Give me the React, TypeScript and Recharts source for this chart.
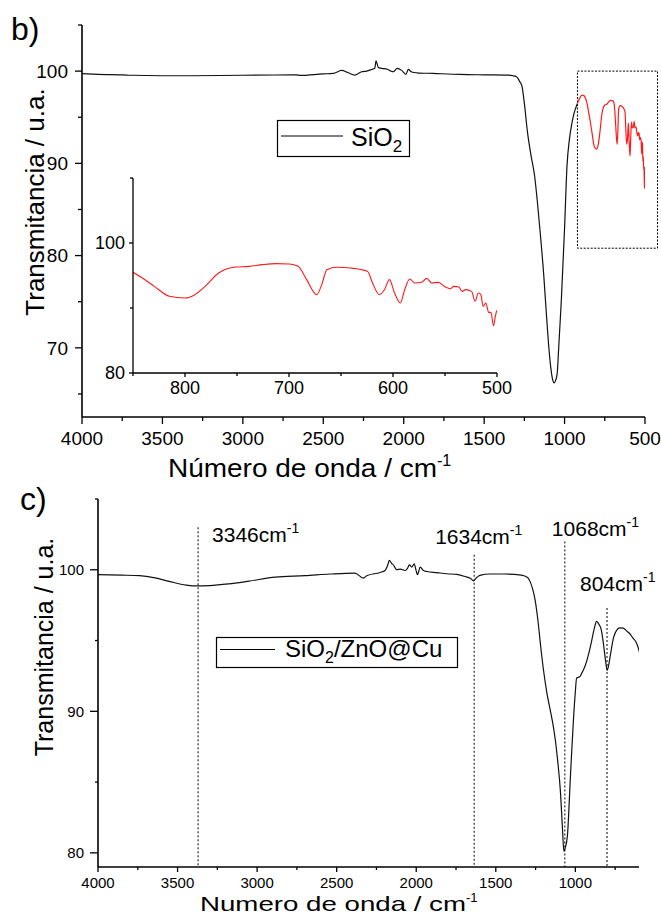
import React from 'react'
import { LineChart, Line, XAxis, YAxis, ReferenceLine, ReferenceArea, Legend } from 'recharts'

const FONT = '"Liberation Sans", Arial, Helvetica, sans-serif'

// ---------- data : SiO2 (black part, 4000 -> 920 cm-1)
const sio2Wn = [4000, 3900, 3746, 3700, 3500, 3324, 3000, 2800, 2666, 2645, 2500, 2438, 2386, 2345, 2303, 2261, 2230, 2199, 2180, 2172, 2158, 2137, 2102, 2080, 2065, 2040, 2013, 1986, 1972, 1950, 1919, 1816, 1650, 1500, 1349, 1320, 1296, 1280, 1265, 1250, 1230, 1210, 1186, 1170, 1151, 1130, 1112, 1100, 1086, 1075, 1065, 1055, 1046, 1035, 1020, 1000, 985, 970, 954, 940, 920]
const sio2T = [99.72, 99.65, 99.6, 99.55, 99.5, 99.5, 99.55, 99.58, 99.6, 99.53, 99.7, 99.75, 100.08, 99.82, 99.57, 99.93, 100.0, 100.18, 100.3, 101.1, 100.4, 100.3, 100.2, 100.0, 99.93, 100.3, 100.08, 99.64, 100.18, 99.9, 99.82, 99.75, 99.64, 99.6, 99.57, 99.5, 99.35, 98.9, 98.37, 96.5, 93.3, 91.0, 88.6, 86.0, 82.4, 78.0, 73.4, 70.5, 67.9, 66.6, 66.2, 66.5, 67.2, 70.5, 75.2, 83.0, 89.7, 92.6, 94.4, 95.5, 96.5]

// ---------- data : SiO2 (red zoomed part, 920 -> 500 cm-1)
const zoomWn = [920, 905, 890, 877, 865, 857, 850, 842.5, 829.5, 815, 800, 790.5, 780.7, 767.7, 751.4, 738.4, 725.4, 712.4, 699.4, 691.3, 683, 673.4, 668.5, 663.6, 653.8, 640.8, 624.6, 619.7, 613.2, 608.3, 603.4, 598.5, 593, 588.8, 583.9, 579, 572.5, 567.6, 562.8, 556.3, 549.8, 544.9, 541.6, 536.7, 533.5, 530.2, 524.4, 521.1, 517.9, 515.6, 513.3, 510.7, 508.1, 505.8, 503.4, 501.6, 500.3]
const zoomT = [96.5, 97.1, 97.4, 97.3, 96.8, 96.2, 95.49, 94.77, 93.33, 91.8, 91.54, 92.05, 93.33, 95.38, 96.3, 96.4, 96.67, 96.82, 96.77, 96.41, 94.36, 92.05, 93.6, 95.9, 96.26, 96.15, 95.64, 93.85, 92.05, 92.8, 94.36, 92.3, 90.77, 92.8, 94.46, 93.85, 93.95, 94.56, 93.85, 93.95, 93.23, 92.97, 93.33, 93.23, 92.56, 92.82, 92.56, 91.03, 92.3, 92.05, 90.26, 90.77, 89.33, 89.33, 87.28, 88.72, 89.64]

// ---------- data : SiO2/ZnO@Cu
const compWn = [4000, 3850, 3739, 3650, 3552, 3446, 3370, 3300, 3179, 3050, 2885, 2700, 2541, 2385, 2332, 2311, 2227, 2196, 2180, 2169, 2155, 2144, 2122, 2100, 2070, 2055, 2043, 2028, 2013, 2000, 1992, 1975, 1955, 1933, 1870, 1807, 1744, 1682, 1660, 1640, 1620, 1600, 1535, 1450, 1339, 1300, 1285, 1270, 1253, 1235, 1218, 1200, 1179, 1160, 1138, 1125, 1112, 1093, 1080, 1072, 1065, 1050, 1031, 1012, 1000, 992, 980, 970, 955, 939, 920, 899, 880, 867, 855, 838, 825, 811, 800, 790, 778, 760, 739, 720, 699, 680, 670, 659, 640, 619, 605, 597]
const compT = [99.65, 99.62, 99.58, 99.45, 99.18, 98.92, 98.86, 98.88, 99.0, 99.2, 99.48, 99.58, 99.7, 99.77, 99.41, 99.58, 99.81, 99.95, 100.3, 100.66, 100.45, 100.35, 100.0, 100.05, 99.95, 100.1, 100.35, 100.19, 100.42, 99.9, 99.65, 100.19, 99.95, 99.88, 99.8, 99.72, 99.67, 99.48, 99.4, 99.22, 99.45, 99.6, 99.7, 99.7, 99.62, 99.45, 99.18, 98.7, 97.88, 96.4, 94.6, 92.9, 91.3, 90.2, 88.9, 87.9, 86.6, 84.2, 81.5, 80.1, 80.3, 81.2, 85.4, 89.4, 91.4, 92.35, 92.4, 92.47, 92.8, 93.2, 93.9, 94.9, 95.9, 96.35, 96.2, 95.8, 94.9, 93.65, 92.9, 93.3, 94.1, 95.2, 95.76, 95.9, 95.88, 95.7, 95.6, 95.5, 95.2, 94.9, 94.5, 94.16]

// ---------- peaks marked in panel c)
const peakPos = [3371, 1636, 1066, 801]
const peakTop = [103.0, 101.06, 102.0, 97.3]
const peakText = ['3346', '1634', '1068', '804']
const peakDx = [14, -39, -13, -27]
const peakDy = [15, -11, -5, -17]

// ---------- ticks
const mainXTicks = [4000, 3750, 3500, 3250, 3000, 2750, 2500, 2250, 2000, 1750, 1500, 1250, 1000, 750, 500]
const mainXLabels = [4000, 3500, 3000, 2500, 2000, 1500, 1000, 500]
const mainYTicks = [65, 70, 75, 80, 85, 90, 95, 100, 105]
const mainYLabels = [70, 80, 90, 100]
const insetXTicks = [850, 800, 750, 700, 650, 600, 550, 500]
const insetXLabels = [800, 700, 600, 500]
const insetYTicks = [80, 90, 100, 110]
const insetYLabels = [80, 100]
const compXTicks = [4000, 3750, 3500, 3250, 3000, 2750, 2500, 2250, 2000, 1750, 1500, 1250, 1000, 750]
const compXLabels = [4000, 3500, 3000, 2500, 2000, 1500, 1000]
const compYTicks = [80, 85, 90, 95, 100, 105]
const compYLabels = [80, 90, 100]

const mainRows = [
  ...sio2Wn.map((wn, i) => ({ wn, black: sio2T[i] })),
  ...zoomWn.map((wn, i) => ({ wn, red: zoomT[i] })),
]
const insetRows = zoomWn.map((wn, i) => ({ wn, red: zoomT[i] })).filter((r) => r.wn <= 850)
const compRows = compWn.map((wn, i) => ({ wn, t: compT[i] }))

// ---------- tick renderers (major ticks labelled, minor ticks short)
const xTick = (labels: number[], size: number, dy: number, major: number, minor: number) => (p: any) => {
  const isMajor = labels.includes(p.payload.value)
  return (
    <g>
      <line x1={p.x} x2={p.x} y1={p.y} y2={p.y + (isMajor ? major : minor)} stroke="#000" strokeWidth={1.3} />
      {isMajor && (
        <text x={p.x} y={p.y + dy} textAnchor="middle" fontSize={size} fontFamily={FONT} fill="#000">
          {p.payload.value}
        </text>
      )}
    </g>
  )
}

const yTick = (labels: number[], size: number, gap: number, major: number, minor: number) => (p: any) => {
  const isMajor = labels.includes(p.payload.value)
  return (
    <g>
      <line x1={p.x - (isMajor ? major : minor)} x2={p.x} y1={p.y} y2={p.y} stroke="#000" strokeWidth={1.3} />
      {isMajor && (
        <text x={p.x - gap} y={p.y} dy="0.36em" textAnchor="end" fontSize={size} fontFamily={FONT} fill="#000">
          {p.payload.value}
        </text>
      )}
    </g>
  )
}

// ---------- titles
const XTitle = (props: any) => {
  const { viewBox, dx, dy, text, size, len } = props
  return (
    <text x={viewBox.x + dx} y={viewBox.y + dy} fontSize={size} fontFamily={FONT} fill="#000">
      <tspan textLength={len} lengthAdjust="spacingAndGlyphs">{text}</tspan>
      <tspan dy={-size * 0.42} fontSize={size * 0.62}>-1</tspan>
    </text>
  )
}

const YTitle = (props: any) => {
  const { viewBox, bx, dy, size } = props
  const cy = viewBox.y + viewBox.height / 2 + dy
  return (
    <text x={bx} y={cy} transform={`rotate(-90 ${bx} ${cy})`} textAnchor="middle" fontSize={size} fontFamily={FONT} fill="#000">
      Transmitancia / u.a.
    </text>
  )
}

const PeakLabel = (props: any) => {
  const { viewBox, dx, dy, text } = props
  return (
    <text x={viewBox.x + dx} y={viewBox.y + dy} fontSize={21} fontFamily={FONT} fill="#000">
      {text}cm
      <tspan dy={-9} fontSize={14}>-1</tspan>
    </text>
  )
}

const LegendBox = ({ w, h, lineEnd, lineY, textX, textY, size, children }: any) => (
  <svg width={w} height={h} style={{ display: 'block', overflow: 'visible' }}>
    <rect x={0.5} y={0.5} width={w - 1} height={h - 1} fill="#fff" stroke="#000" strokeWidth={1.2} />
    <line x1={4} x2={lineEnd} y1={lineY} y2={lineY} stroke="#000" strokeWidth={1} />
    <text x={textX} y={textY} fontSize={size} fontFamily={FONT} fill="#000">
      {children}
    </text>
  </svg>
)

const axisLine = { stroke: '#000', strokeWidth: 1.6 }

export default function App() {
  return (
    <div style={{ position: 'absolute', left: 0, top: 0, width: 661, height: 915, background: '#fff', fontFamily: FONT }}>
      {/* panel b) main spectrum */}
      <div style={{ position: 'absolute', left: 0, top: 0 }}>
        <LineChart width={661} height={490} data={mainRows} margin={{ top: 25, right: 16, bottom: 0, left: 0 }}>
          <XAxis
            type="number"
            dataKey="wn"
            domain={[500, 4000]}
            reversed
            allowDataOverflow
            ticks={mainXTicks}
            interval={0}
            height={73}
            tickSize={0}
            tickMargin={0}
            tickLine={false}
            axisLine={axisLine}
            tick={xTick(mainXLabels, 19, 28, 7, 4)}
            label={<XTitle dx={86} dy={60} size={26} len={269} text="Número de onda / cm" />}
          />
          <YAxis
            type="number"
            domain={[62.5, 105]}
            allowDataOverflow
            ticks={mainYTicks}
            interval={0}
            width={82}
            tickSize={0}
            tickMargin={0}
            tickLine={false}
            axisLine={axisLine}
            tick={yTick(mainYLabels, 19, 14, 7, 4)}
            label={<YTitle bx={44} dy={-19} size={26} />}
          />
          <ReferenceArea x1={920} x2={422} y1={80.8} y2={100} ifOverflow="visible" fill="none" fillOpacity={0} stroke="#000" strokeWidth={1} strokeDasharray="2 1.5" />
          <Line type="monotone" dataKey="black" stroke="#111" strokeWidth={1.2} dot={false} isAnimationActive={false} />
          <Line type="monotone" dataKey="red" stroke="#ff1a1a" strokeWidth={1.2} dot={false} isAnimationActive={false} />
          <Legend
            layout="vertical"
            align="center"
            verticalAlign="middle"
            wrapperStyle={{ left: 277, top: 120, width: 133, height: 37, margin: 0, padding: 0 }}
            content={() => (
              <LegendBox w={133} h={37} lineEnd={66} lineY={16} textX={74} textY={26} size={25}>
                SiO<tspan dy={6} fontSize={17}>2</tspan>
              </LegendBox>
            )}
          />
        </LineChart>
      </div>

      {/* panel b) inset */}
      <div style={{ position: 'absolute', left: 0, top: 0 }}>
        <LineChart width={520} height={410} data={insetRows} margin={{ top: 178, right: 23, bottom: 0, left: 0 }}>
          <XAxis
            type="number"
            dataKey="wn"
            domain={[500, 850]}
            reversed
            allowDataOverflow
            ticks={insetXTicks}
            interval={0}
            height={37}
            tickSize={0}
            tickMargin={0}
            tickLine={false}
            axisLine={{ stroke: '#000', strokeWidth: 1.3 }}
            tick={xTick(insetXLabels, 18, 21, 4, 3)}
          />
          <YAxis
            type="number"
            domain={[80, 110]}
            allowDataOverflow
            ticks={insetYTicks}
            interval={0}
            width={133}
            tickSize={0}
            tickMargin={0}
            tickLine={false}
            axisLine={{ stroke: '#000', strokeWidth: 1.3 }}
            tick={yTick(insetYLabels, 18, 8, 4, 3)}
          />
          <Line type="monotone" dataKey="red" stroke="#ff1a1a" strokeWidth={1.1} dot={false} isAnimationActive={false} />
        </LineChart>
      </div>

      {/* panel c) */}
      <div style={{ position: 'absolute', left: 0, top: 460 }}>
        <LineChart width={661} height={455} data={compRows} margin={{ top: 39, right: 22, bottom: 0, left: 0 }}>
          <XAxis
            type="number"
            dataKey="wn"
            domain={[600, 4000]}
            reversed
            allowDataOverflow
            ticks={compXTicks}
            interval={0}
            height={48}
            tickSize={0}
            tickMargin={0}
            tickLine={false}
            axisLine={axisLine}
            tick={xTick(compXLabels, 15, 21, 5, 3)}
            label={<XTitle dx={102} dy={44} size={21} len={266} text="Numero de onda / cm" />}
          />
          <YAxis
            type="number"
            domain={[79, 105]}
            allowDataOverflow
            ticks={compYTicks}
            interval={0}
            width={98}
            tickSize={0}
            tickMargin={0}
            tickLine={false}
            axisLine={axisLine}
            tick={yTick(compYLabels, 15, 14, 8, 3)}
            label={<YTitle bx={53} dy={-36} size={25} />}
          />
          {peakPos.map((x, i) => (
            <ReferenceLine
              key={peakText[i]}
              segment={[{ x, y: peakTop[i] }, { x, y: 79 }]}
              stroke="#000"
              strokeWidth={1}
              strokeDasharray="2 2"
              label={<PeakLabel dx={peakDx[i]} dy={peakDy[i]} text={peakText[i]} />}
            />
          ))}
          <Line type="monotone" dataKey="t" stroke="#111" strokeWidth={1.2} dot={false} isAnimationActive={false} />
          <Legend
            layout="vertical"
            align="center"
            verticalAlign="middle"
            wrapperStyle={{ left: 216, top: 177, width: 242, height: 31, margin: 0, padding: 0 }}
            content={() => (
              <LegendBox w={242} h={31} lineEnd={59} lineY={12.5} textX={69} textY={20} size={24}>
                SiO<tspan dy={6} fontSize={16}>2</tspan>
                <tspan dy={-6}>/ZnO@Cu</tspan>
              </LegendBox>
            )}
          />
        </LineChart>
      </div>

      {/* panel letters */}
      <svg width={661} height={915} style={{ position: 'absolute', left: 0, top: 0, pointerEvents: 'none' }}>
        <text x={11} y={40} fontSize={32} fontFamily={FONT} fill="#000">b)</text>
        <text x={20} y={510} fontSize={32} fontFamily={FONT} fill="#000">c)</text>
      </svg>
    </div>
  )
}
